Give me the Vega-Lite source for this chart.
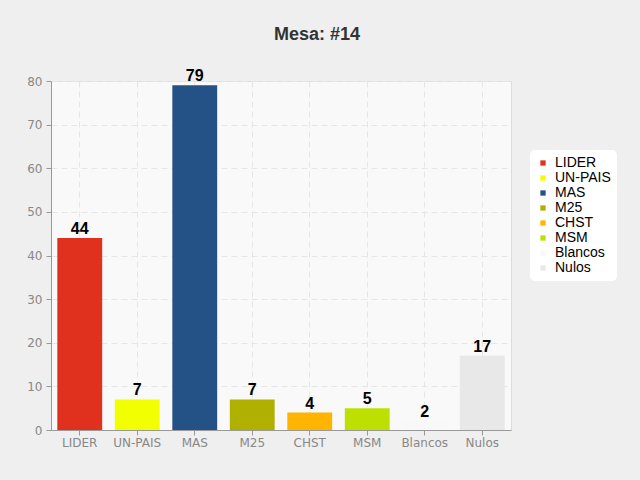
{
  "$schema": "https://vega.github.io/schema/vega-lite/v6.json",
  "autosize": "none",
  "width": 460,
  "height": 349,
  "padding": {"left": 51, "top": 81, "right": 129, "bottom": 50},
  "background": "#efefef",
  "title": {
    "text": "Mesa: #14",
    "anchor": "middle",
    "dx": 36,
    "offset": 24,
    "font": "Liberation Sans",
    "fontSize": 18,
    "fontWeight": "bold",
    "color": "#333333"
  },
  "config": {
    "view": {"fill": "#f9f9f9", "stroke": "#dddddd"},
    "axis": {
      "labelFont": "DejaVu Sans",
      "labelFontSize": 12,
      "labelColor": "#888888",
      "domainColor": "#999999",
      "tickColor": "#999999",
      "tickSize": 5,
      "gridColor": "#e6e6e6",
      "gridDash": [6, 4],
      "title": null
    }
  },
  "data": {
    "values": [
      {"partido": "LIDER", "votos": 44},
      {"partido": "UN-PAIS", "votos": 7},
      {"partido": "MAS", "votos": 79},
      {"partido": "M25", "votos": 7},
      {"partido": "CHST", "votos": 4},
      {"partido": "MSM", "votos": 5},
      {"partido": "Blancos", "votos": 2},
      {"partido": "Nulos", "votos": 17}
    ]
  },
  "encoding": {
    "x": {
      "field": "partido",
      "type": "nominal",
      "sort": null,
      "scale": {"paddingInner": 0.22, "paddingOuter": 0.11},
      "axis": {"labelAngle": 0, "grid": true, "labelPadding": 2}
    },
    "y": {
      "field": "votos",
      "type": "quantitative",
      "scale": {"domain": [0, 80], "nice": false},
      "axis": {"values": [0, 10, 20, 30, 40, 50, 60, 70, 80], "labelOverlap": false, "grid": true, "labelPadding": 4}
    }
  },
  "layer": [
    {
      "mark": {"type": "bar"},
      "encoding": {
        "color": {
          "field": "partido",
          "type": "nominal",
          "sort": null,
          "scale": {
            "domain": ["LIDER", "UN-PAIS", "MAS", "M25", "CHST", "MSM", "Blancos", "Nulos"],
            "range": ["#e0301e", "#f2ff00", "#245287", "#b0b000", "#ffb400", "#bde000", "#f8f8f8", "#e8e8e8"]
          },
          "legend": {
            "title": null,
            "orient": "none",
            "legendX": 479,
            "legendY": 69,
            "fillColor": "#ffffff",
            "cornerRadius": 5,
            "padding": 6,
            "symbolType": "square",
            "symbolSize": 28,
            "symbolStrokeWidth": 0,
            "labelFont": "Liberation Sans",
            "labelFontSize": 14,
            "labelColor": "#000000",
            "rowPadding": 1,
            "labelOffset": 5
          }
        }
      }
    },
    {
      "mark": {
        "type": "text",
        "baseline": "bottom",
        "dy": -1,
        "font": "Liberation Sans",
        "fontSize": 16,
        "fontWeight": "bold",
        "color": "#000000"
      },
      "encoding": {"text": {"field": "votos", "type": "quantitative"}}
    }
  ]
}
